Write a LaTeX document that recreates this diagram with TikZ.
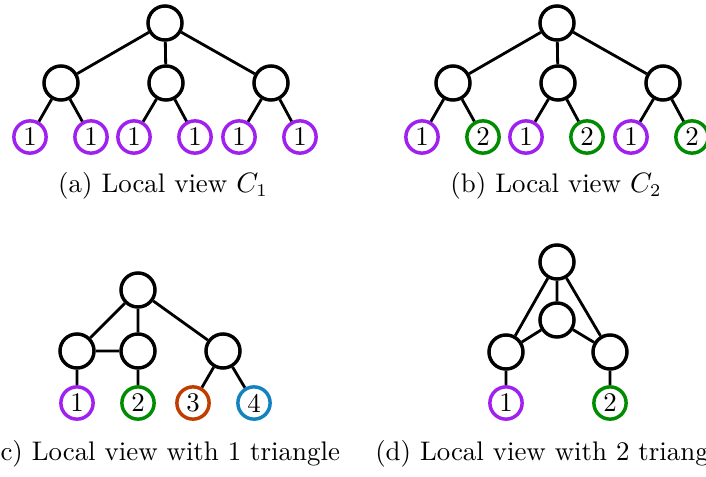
\documentclass[tikz,border=0pt]{standalone}
\definecolor{cpurple}{HTML}{A020F0}
\definecolor{cgreen}{HTML}{008C00}
\definecolor{corange}{HTML}{C03C00}
\definecolor{cblue}{HTML}{1382BE}
\begin{document}
\begin{tikzpicture}[x=0.3906pt,y=-0.3906pt,
  every node/.style={font=\fontsize{10.5}{12.6}\selectfont},
  innode/.style={circle,draw=black,line width=1.35pt,minimum size=13.3pt,inner sep=0pt},
  leafnode/.style={circle,line width=1.35pt,minimum size=12.6pt,inner sep=0pt},
  pu/.style={leafnode,draw=cpurple},
  gr/.style={leafnode,draw=cgreen},
  orr/.style={leafnode,draw=corange},
  bl/.style={leafnode,draw=cblue},
  lnk/.style={line width=1.1pt},
  capt/.style={anchor=base}]
\clip (0,0) rectangle (706,476);
% (a)
\node[innode] (ar) at (165,23) {};
\node[innode] (am1) at (61,83) {};
\node[innode] (am2) at (166,83) {};
\node[innode] (am3) at (271,83) {};
\node[pu] (al1) at (30,137) {1};
\node[pu] (al2) at (91,137) {1};
\node[pu] (al3) at (134,137) {1};
\node[pu] (al4) at (195,137) {1};
\node[pu] (al5) at (239,137) {1};
\node[pu] (al6) at (300,137) {1};
\draw[lnk] (ar) -- (am1) (ar) -- (am2) (ar) -- (am3)
  (am1) -- (al1) (am1) -- (al2) (am2) -- (al3) (am2) -- (al4)
  (am3) -- (al5) (am3) -- (al6);
\node[capt] (acap) at (163,192) {(a) Local view $C_1$};
% (b)
\node[innode] (br) at (557,23) {};
\node[innode] (bm1) at (453,83) {};
\node[innode] (bm2) at (558,83) {};
\node[innode] (bm3) at (663,83) {};
\node[pu] (bl1) at (422,137) {1};
\node[gr] (bl2) at (483,137) {2};
\node[pu] (bl3) at (526,137) {1};
\node[gr] (bl4) at (587,137) {2};
\node[pu] (bl5) at (631,137) {1};
\node[gr] (bl6) at (692,137) {2};
\draw[lnk] (br) -- (bm1) (br) -- (bm2) (br) -- (bm3)
  (bm1) -- (bl1) (bm1) -- (bl2) (bm2) -- (bl3) (bm2) -- (bl4)
  (bm3) -- (bl5) (bm3) -- (bl6);
\node[capt] (bcap) at (556,192) {(b) Local view $C_2$};
% (c)
\node[innode] (cr) at (138,290) {};
\node[innode] (cm1) at (77,351) {};
\node[innode] (cm2) at (138,351) {};
\node[innode] (cm3) at (223,351) {};
\node[pu] (cl1) at (77,403) {1};
\node[gr] (cl2) at (138,403) {2};
\node[orr] (cl3) at (193,403) {3};
\node[bl] (cl4) at (254,403) {4};
\draw[lnk] (cr) -- (cm1) (cr) -- (cm2) (cr) -- (cm3) (cm1) -- (cm2)
  (cm1) -- (cl1) (cm2) -- (cl2) (cm3) -- (cl3) (cm3) -- (cl4);
\node[capt] (ccap) at (165,460) {(c) Local view with 1 triangle};
% (d)
\node[innode] (dr) at (557,262) {};
\node[innode] (dc) at (557,320) {};
\node[innode] (dm1) at (506,352) {};
\node[innode] (dm2) at (610,352) {};
\node[pu] (dl1) at (506,403) {1};
\node[gr] (dl2) at (610,403) {2};
\draw[lnk] (dr) -- (dc) (dr) -- (dm1) (dr) -- (dm2) (dc) -- (dm1) (dc) -- (dm2)
  (dm1) -- (dl1) (dm2) -- (dl2);
\node[capt] (dcap) at (557,460) {(d) Local view with 2 triangles};
\end{tikzpicture}
\end{document}
